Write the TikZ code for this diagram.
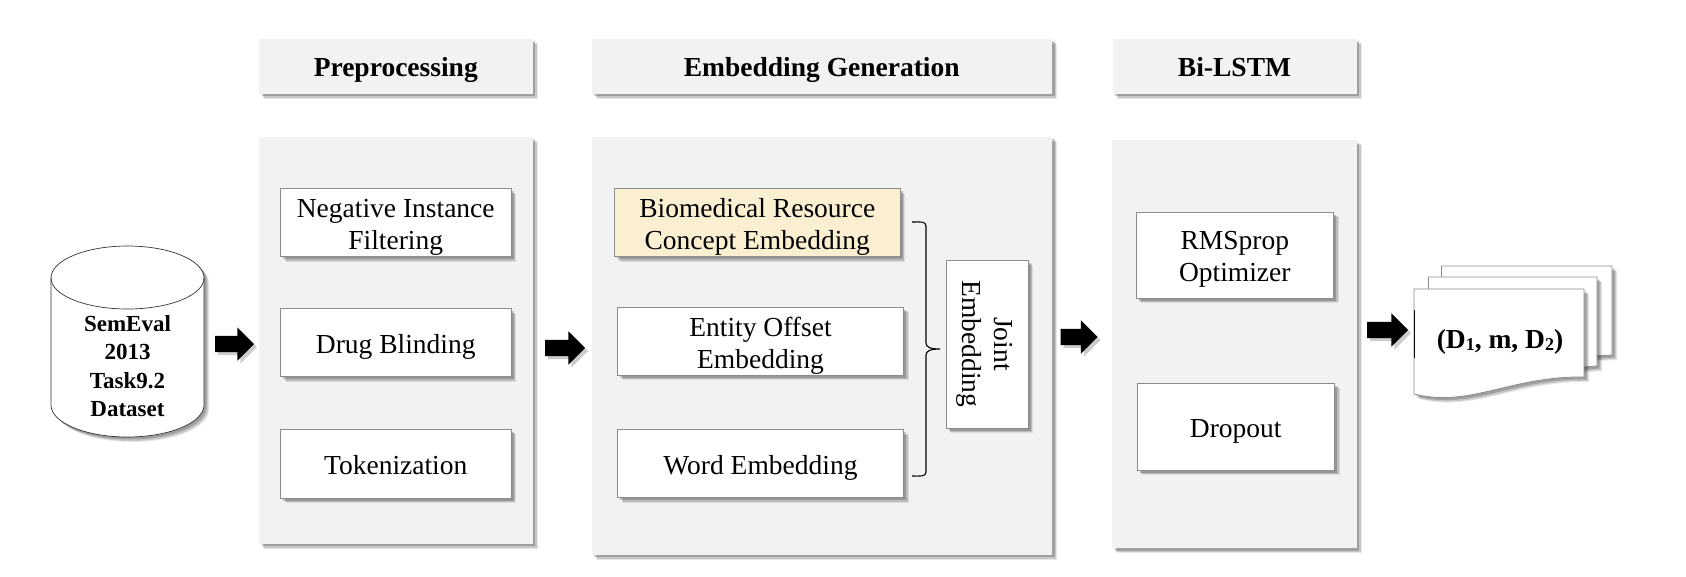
\documentclass[tikz,border=0pt]{standalone}
\usepackage{fontspec}
\setmainfont{Liberation Serif}
\usetikzlibrary{shapes.arrows,shadows,calc}
\definecolor{panelgray}{HTML}{F2F2F2}
\definecolor{boxedge}{HTML}{8C8C8C}
\definecolor{biofill}{HTML}{FBEFD2}
\tikzset{
  softshadow/.style={
    general shadow={shadow xshift=5pt,shadow yshift=-5pt,fill=black,opacity=.09},
    general shadow={shadow xshift=4pt,shadow yshift=-4pt,fill=black,opacity=.14},
    general shadow={shadow xshift=2.5pt,shadow yshift=-2.5pt,fill=black,opacity=.2}},
  panelbox/.style={softshadow,fill=panelgray,inner sep=0pt,outer sep=0pt,align=center},
  headbox/.style={panelbox,font=\fontsize{27.5}{32}\selectfont\bfseries},
  stepbox/.style={softshadow,draw=boxedge,line width=.8pt,fill=white,inner sep=0pt,outer sep=0pt,
    align=center,font=\fontsize{27.5}{32}\selectfont},
  bigarrow/.style={shape=single arrow,anchor=tip,fill=black,inner xsep=0pt,inner ysep=8pt,outer sep=0pt,
    single arrow head extend=8.5pt,single arrow tip angle=90,
    general shadow={shadow xshift=3pt,shadow yshift=-3pt,fill=black,opacity=.2}},
  paper/.style={softshadow,draw=boxedge,line width=.8pt,fill=white},
  cyl/.style={softshadow,draw=black!80,line width=.7pt,fill=white},
}
\newcommand{\rect}[7]{\node[#1,minimum width={(#5-#3)*1pt},minimum height={(#6-#4)*1pt}] (#2) at ({(#3+#5)/2},{(#4+#6)/2}) {\rule{0pt}{28.8pt}#7\rule[-7pt]{0pt}{7pt}};}
\begin{document}
\begin{tikzpicture}[x=1pt,y=-1pt]
\useasboundingbox (0,0) rectangle (1686,576);
% panels
\rect{panelbox}{panelA}{259}{136.5}{532.5}{543.5}{}
\rect{panelbox}{panelB}{591.5}{136.5}{1052}{554.5}{}
\rect{panelbox}{panelC}{1112}{140}{1356.5}{548}{}
\rect{headbox}{headA}{259}{38.5}{532.5}{93.5}{Preprocessing}
\rect{headbox}{headB}{591.5}{38.5}{1052}{93.5}{Embedding Generation}
\rect{headbox}{headC}{1112.5}{38.5}{1356.5}{93.5}{Bi-LSTM}
% dataset
\draw[cyl] (51,278) -- (51,405) arc[start angle=180,end angle=0,x radius=76.5,y radius=32]
  -- (204,278) arc[start angle=0,end angle=-180,x radius=76.5,y radius=32] -- cycle;
\draw[draw=black!80,line width=.7pt] (51,278) arc[start angle=180,end angle=0,x radius=76.5,y radius=31];
\node[inner sep=0pt,align=center,font=\fontsize{23}{28.3}\selectfont\bfseries] (data) at (127.5,366) {SemEval\\2013\\Task9.2\\Dataset};
% preprocessing
\rect{stepbox}{filter}{280.5}{188.5}{511}{256.5}{Negative Instance\\Filtering}
\rect{stepbox}{blind}{280.5}{308.5}{511}{376.5}{Drug Blinding}
\rect{stepbox}{token}{280.5}{429}{511}{498}{Tokenization}
% embeddings
\rect{stepbox,fill=biofill}{bio}{614.5}{188.5}{900}{256.5}{Biomedical Resource\\Concept Embedding}
\rect{stepbox}{offset}{617.5}{307.5}{903.5}{375}{Entity Offset\\Embedding}
\rect{stepbox}{word}{617.5}{429.5}{903.5}{497.5}{Word Embedding}
\node[softshadow,draw=boxedge,line width=.8pt,fill=white,inner sep=0pt,outer sep=0pt,align=center,
  font=\fontsize{27.5}{32}\selectfont,rotate=-90,minimum width=168pt,minimum height=82pt] (joint) at (987,344) {\rule{0pt}{24.5pt}Joint\\Embedding\rule[-8pt]{0pt}{8pt}};
% brace
\coordinate (bt) at (912,222);
\coordinate (bb) at (912,476);
\draw[black,line width=1.1pt] (bt) .. controls (920,222) and (926,221) .. (926,226) -- (926,343)
  .. controls (926,347) and (930,349) .. (940,349)
  (940,349) .. controls (930,349) and (926,351) .. (926,355) -- (926,472)
  .. controls (926,477) and (920,476) .. (bb);
% bi-lstm
\rect{stepbox}{rms}{1136}{212}{1333.5}{298}{RMSprop\\Optimizer}
\rect{stepbox}{drop}{1137}{383}{1334.5}{470}{Dropout}
% output documents
\draw[paper] (1441.5,266) -- (1612,266) -- (1612,355) -- (1560,358) -- (1441.5,358) -- cycle;
\draw[paper] (1428.5,277) -- (1597,277) -- (1597,366) -- (1560,369) -- (1428.5,369) -- cycle;
\draw[paper] (1414,289) -- (1584,289) -- (1584,377)
  .. controls (1510,376) and (1470,408) .. (1414,394) -- cycle;
\draw[black,line width=.9pt] (1414,310) -- (1414,358);
\node[inner sep=0pt,font=\fontsize{27.5}{32}\selectfont\bfseries] (triple) at (1500,342)
  {(D{\raisebox{-1.5pt}{\fontsize{18}{20}\selectfont 1}}, m, D{\raisebox{-1.5pt}{\fontsize{18}{20}\selectfont 2}})};
% arrows
\node[bigarrow,minimum height=39pt,minimum width=33pt] (arrA) at (254,344) {};
\node[bigarrow,minimum height=40pt,minimum width=33pt] (arrB) at (585,348) {};
\node[bigarrow,minimum height=37pt,minimum width=32pt] (arrC) at (1097.5,337) {};
\node[bigarrow,minimum height=41pt,minimum width=32pt] (arrD) at (1408,330) {};
\end{tikzpicture}
\end{document}
